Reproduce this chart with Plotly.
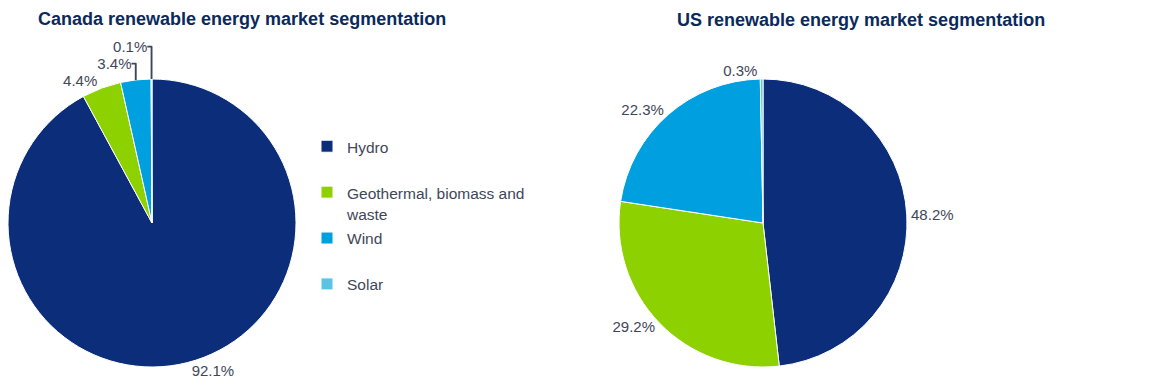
import plotly.graph_objects as go

W, H = 1155, 387

labels = ["Hydro", "Geothermal, biomass and waste", "Wind", "Solar"]
legend_lines = [["Hydro", " "], ["Geothermal, biomass and", "waste"], ["Wind", " "], ["Solar", " "]]
canada_values = [92.1, 4.4, 3.4, 0.1]
us_values = [48.2, 29.2, 22.3, 0.3]
colors = ["#0B2D7A", "#8DD100", "#009FDF", "#5BC4E5"]

title_canada = "Canada renewable energy market segmentation"
title_us = "US renewable energy market segmentation"

TXT = "#3E4759"
TITLE = "#0B2A5B"
FONT = "Arial, Liberation Sans, sans-serif"

legend_labels = ["<br>".join('<span style="font-size:15.5px">%s</span>' % ln for ln in lines)
                 for lines in legend_lines]


def px_x(p):
    return p / W


def px_y(p):
    return 1 - p / H


fig = go.Figure()

for vals, dom, lg in [(canada_values, (8, 296), "legend"), (us_values, (619, 907), "legend2")]:
    fig.add_trace(go.Pie(
        labels=legend_labels, values=vals, sort=False, direction="clockwise", rotation=0,
        marker=dict(colors=colors, line=dict(color="white", width=1)),
        texttemplate="%{percent:.1%}", textposition="outside",
        textfont=dict(family=FONT, size=15, color=TXT),
        domain=dict(x=[px_x(dom[0]), px_x(dom[1])], y=[px_y(367), px_y(79)]),
        legend=lg, hoverinfo="percent", automargin=False,
    ))

legend_common = dict(
    font=dict(family=FONT, size=16.5, color=TXT),
    bgcolor="rgba(0,0,0,0)", valign="top", xanchor="left", yanchor="top",
    itemclick=False, itemdoubleclick=False,
)

fig.update_layout(
    width=W, height=H,
    margin=dict(l=0, r=0, t=0, b=0),
    paper_bgcolor="white", plot_bgcolor="white",
    font=dict(family=FONT, color=TXT),
    showlegend=True,
    legend=dict(x=px_x(307), y=px_y(129), **legend_common),
    legend2=dict(x=px_x(935), y=px_y(129), **legend_common),
    annotations=[
        dict(text="<b>" + title_canada + "</b>", x=px_x(242), y=px_y(19), xref="paper", yref="paper",
             showarrow=False, font=dict(family=FONT, size=18, color=TITLE), xanchor="center", yanchor="middle"),
        dict(text="<b>" + title_us + "</b>", x=px_x(861), y=px_y(20), xref="paper", yref="paper",
             showarrow=False, font=dict(family=FONT, size=18, color=TITLE), xanchor="center", yanchor="middle"),
    ],
)

fig.write_html("out.html")
